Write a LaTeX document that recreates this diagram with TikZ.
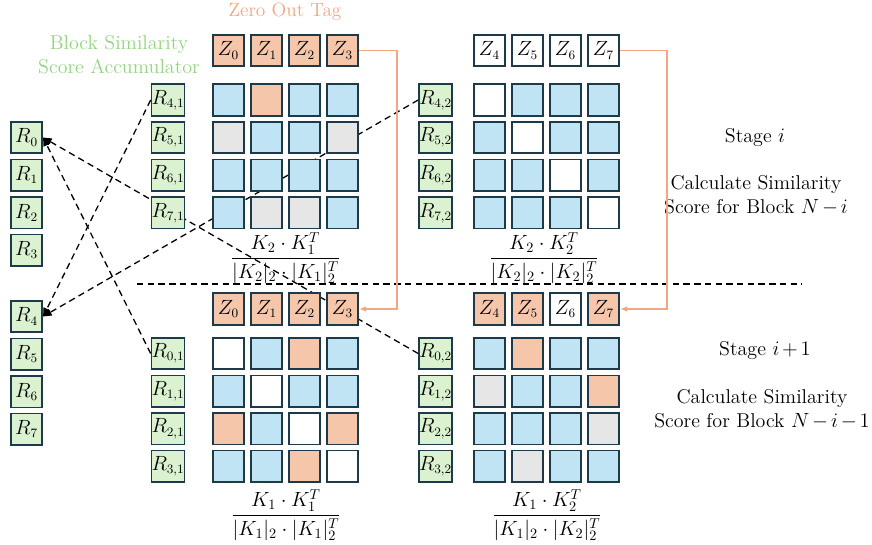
\documentclass[tikz,border=0pt]{standalone}
\usepackage{amsmath}
\usetikzlibrary{arrows.meta,backgrounds}
\definecolor{CellBlue}{HTML}{C1E4F5}
\definecolor{CellOrange}{HTML}{F5C6A9}
\definecolor{CellGray}{HTML}{E6E6E6}
\definecolor{CellWhite}{HTML}{FFFFFF}
\definecolor{AccGreen}{HTML}{DAF2D0}
\definecolor{CellEdge}{HTML}{1C3A4A}
\definecolor{TagOrange}{HTML}{F4A582}
\definecolor{TitleGreen}{HTML}{92D47F}

\tikzset{
  cell/.style={draw=CellEdge, line width=1.2pt, minimum size=22pt, inner sep=0pt},
  acc/.style={cell, fill=AccGreen},
  link/.style={dashed, line width=0.9pt, dash pattern=on 4.5pt off 3pt, -{Triangle[length=6pt,width=5pt]}},
  tagline/.style={draw=TagOrange, line width=0.9pt, -{Latex[length=5pt,width=4pt]}},
  caption/.style={align=center, font={\fontsize{14}{17}\selectfont\medmuskip=2.5mu}},
  ratio/.style={inner sep=1pt, font=\fontsize{14}{17}\selectfont}
}

\begin{document}
\begin{tikzpicture}[x=0.7pt, y=-0.7pt, font=\fontsize{13.5}{16}\selectfont]
    \useasboundingbox (0,0) rectangle (872,544);

    % stage i
    \foreach \fl [count=\i from 0] in {Orange,Orange,Orange,Orange}
      \node[cell, fill=Cell\fl] (tlz-\i) at (228.5+38*\i, 50.5) {$Z_{\i}$};
    \foreach \fl [count=\i from 0] in {White,White,White,White} {
      \pgfmathtruncatemacro\k{\i+4}
      \node[cell, fill=Cell\fl] (trz-\i) at (489.5+38*\i, 50.5) {$Z_{\k}$};
    }
    \foreach \fl [count=\i from 0] in {Blue,Orange,Blue,Blue, Gray,Blue,Blue,Gray, Blue,Blue,Blue,Blue, Blue,Gray,Gray,Blue} {
      \pgfmathtruncatemacro\r{div(\i,4)}
      \pgfmathtruncatemacro\c{mod(\i,4)}
      \node[cell, fill=Cell\fl] (tl-\r-\c) at (228.5+38*\c, 100+37.6*\r) {};
    }
    \foreach \fl [count=\i from 0] in {White,Blue,Blue,Blue, Blue,White,Blue,Blue, Blue,Blue,White,Blue, Blue,Blue,Blue,White} {
      \pgfmathtruncatemacro\r{div(\i,4)}
      \pgfmathtruncatemacro\c{mod(\i,4)}
      \node[cell, fill=Cell\fl] (tr-\r-\c) at (489.5+38*\c, 100+37.6*\r) {};
    }
    \foreach \k [count=\r from 0] in {4,...,7} {
      \node[acc] (tlr-\r) at (168, 100+37.6*\r) {$R_{\k,1}$};
      \node[acc] (trr-\r) at (435.5, 100+37.6*\r) {$R_{\k,2}$};
    }

    % stage i+1
    \foreach \fl [count=\i from 0] in {Orange,Orange,Orange,Orange}
      \node[cell, fill=Cell\fl] (blz-\i) at (228.5+38*\i, 309) {$Z_{\i}$};
    \foreach \fl [count=\i from 0] in {Orange,Orange,White,Orange} {
      \pgfmathtruncatemacro\k{\i+4}
      \node[cell, fill=Cell\fl] (brz-\i) at (489.5+38*\i, 309) {$Z_{\k}$};
    }
    \foreach \fl [count=\i from 0] in {White,Blue,Orange,Blue, Blue,White,Blue,Blue, Orange,Blue,White,Orange, Blue,Blue,Orange,White} {
      \pgfmathtruncatemacro\r{div(\i,4)}
      \pgfmathtruncatemacro\c{mod(\i,4)}
      \node[cell, fill=Cell\fl] (bl-\r-\c) at (228.5+38*\c, 353.5+37.6*\r) {};
    }
    \foreach \fl [count=\i from 0] in {Blue,Orange,Blue,Blue, Gray,Blue,Blue,Orange, Blue,Blue,Blue,Gray, Blue,Gray,Blue,Blue} {
      \pgfmathtruncatemacro\r{div(\i,4)}
      \pgfmathtruncatemacro\c{mod(\i,4)}
      \node[cell, fill=Cell\fl] (br-\r-\c) at (489.5+38*\c, 353.5+37.6*\r) {};
    }
    \foreach \k [count=\r from 0] in {0,...,3} {
      \node[acc] (blr-\r) at (168, 353.5+37.6*\r) {$R_{\k,1}$};
      \node[acc] (brr-\r) at (435.5, 353.5+37.6*\r) {$R_{\k,2}$};
    }

    % accumulator
    \foreach \k in {0,...,3}
      \node[acc] (acc-\k) at (26.5, 137.5+37.6*\k) {$R_{\k}$};
    \foreach \k in {4,...,7}
      \node[acc] (acc-\k) at (26.5, 316.5+37.6*\k-150.4) {$R_{\k}$};

    \node[caption, text=TagOrange, font=\fontsize{13.5}{16}\selectfont] (tagtitle) at (285, 12) {Zero Out Tag};
    \node[caption, text=TitleGreen] (acctitle) at (119, 55) {Block Similarity\\Score Accumulator};

    \node[ratio] (fractl) at (285.5, 258) {$\dfrac{K_2\cdot K_1^T}{|K_2|_2\cdot|K_1|_2^T}$};
    \node[ratio] (fractr) at (544, 258) {$\dfrac{K_2\cdot K_2^T}{|K_2|_2\cdot|K_2|_2^T}$};
    \node[ratio] (fracbl) at (286, 515) {$\dfrac{K_1\cdot K_1^T}{|K_1|_2\cdot|K_1|_2^T}$};
    \node[ratio] (fracbr) at (547, 515) {$\dfrac{K_1\cdot K_2^T}{|K_1|_2\cdot|K_2|_2^T}$};

    \node[caption] (stagei) at (755, 138) {Stage $i$};
    \node[caption] (calci) at (756, 195) {Calculate Similarity\\Score for Block $N-i$};
    \node[caption] (stagej) at (765, 351) {Stage $i+1$};
    \node[caption] (calcj) at (762, 409) {Calculate Similarity\\Score for Block $N-i-1$};

    \draw[dashed, line width=0.9pt, dash pattern=on 4.5pt off 3pt] (137,284) -- (802,284);

    \draw[tagline] (tlz-3.east) -- ++(38,0) |- (blz-3.east);
    \draw[tagline] (trz-3.east) -- ++(47,0) |- (brz-3.east);

    \begin{scope}[on background layer]
      \draw[link] (tlr-0.west) -- (acc-4.east);
      \draw[link] (trr-0.west) -- (acc-4.east);
      \draw[link] (blr-0.west) -- (acc-0.east);
      \draw[link] (brr-0.west) -- (acc-0.east);
    \end{scope}
\end{tikzpicture}
\end{document}
